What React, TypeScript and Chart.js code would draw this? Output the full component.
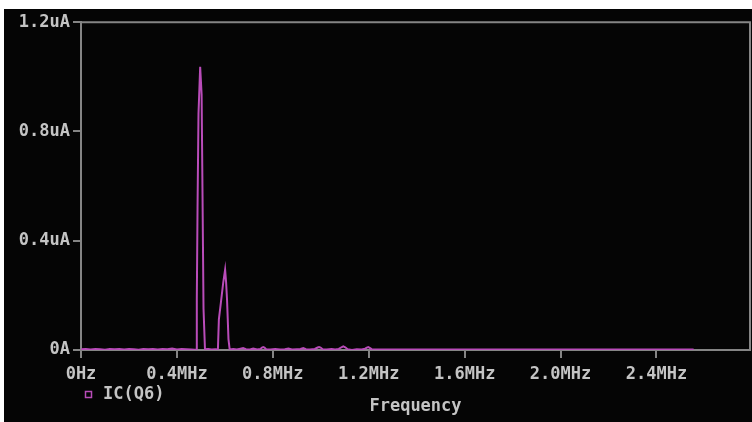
import { useEffect, useRef } from "react";
import { Chart, registerables } from "chart.js";

Chart.register(...registerables);

// Spectrum of the collector current IC(Q6): frequency in MHz, magnitude in uA
const freqMHz = [
  0.000, 0.020, 0.040, 0.060, 0.080, 0.100, 0.120, 0.140, 0.160, 0.180,
  0.200, 0.220, 0.240, 0.260, 0.280, 0.300, 0.320, 0.340, 0.360, 0.380,
  0.400, 0.420, 0.440, 0.460, 0.474, 0.481, 0.483, 0.486, 0.490, 0.497,
  0.503, 0.506, 0.511, 0.517, 0.530, 0.545, 0.560, 0.571, 0.575, 0.584,
  0.593, 0.601, 0.605, 0.609, 0.615, 0.620, 0.635, 0.650, 0.665, 0.676,
  0.688, 0.705, 0.718, 0.735, 0.748, 0.755, 0.760, 0.765, 0.772, 0.790,
  0.810, 0.830, 0.850, 0.865, 0.880, 0.900, 0.915, 0.927, 0.938, 0.955,
  0.975, 0.987, 0.993, 0.999, 1.008, 1.025, 1.045, 1.060, 1.075, 1.086,
  1.094, 1.102, 1.112, 1.130, 1.150, 1.170, 1.185, 1.192, 1.198, 1.204,
  1.212, 1.230, 1.300, 1.450, 1.600, 1.800, 2.000, 2.200, 2.400, 2.555,
];

const icQ6uA = [
  0.003, 0.004, 0.002, 0.004, 0.003, 0.001, 0.004, 0.003, 0.004, 0.002,
  0.004, 0.003, 0.001, 0.004, 0.003, 0.004, 0.002, 0.004, 0.003, 0.005,
  0.002, 0.004, 0.003, 0.002, 0.001, 0.002, 0.185, 0.520, 0.865, 1.037,
  0.935, 0.645, 0.150, 0.003, 0.004, 0.002, 0.003, 0.002, 0.112, 0.178,
  0.246, 0.294, 0.250, 0.185, 0.040, 0.002, 0.004, 0.002, 0.005, 0.007,
  0.003, 0.002, 0.005, 0.002, 0.004, 0.009, 0.011, 0.009, 0.003, 0.002,
  0.004, 0.002, 0.003, 0.005, 0.002, 0.003, 0.004, 0.007, 0.003, 0.002,
  0.004, 0.009, 0.011, 0.009, 0.003, 0.002, 0.004, 0.002, 0.004, 0.010,
  0.013, 0.010, 0.003, 0.000, 0.003, 0.002, 0.005, 0.009, 0.011, 0.008,
  0.003, 0.002, 0.002, 0.002, 0.002, 0.002, 0.002, 0.002, 0.002, 0.002,
];

const xTickValues = [0, 0.4, 0.8, 1.2, 1.6, 2.0, 2.4];
const xTickLabels = ["0Hz", "0.4MHz", "0.8MHz", "1.2MHz", "1.6MHz", "2.0MHz", "2.4MHz"];
const yTickValues = [0, 0.4, 0.8, 1.2];
const yTickLabels = ["0A", "0.4uA", "0.8uA", "1.2uA"];
const seriesName = "IC(Q6)";
const xAxisTitle = "Frequency";
const xMaxMHz = 2.79;
const yMaxUA = 1.2;

const TRACE = "#b94cb9";
const AXIS = "#858585";
const TEXT = "#c4c4c4";
const BG = "#050505";
const FONT = { family: "'DejaVu Sans Mono', 'Liberation Mono', monospace", size: 17, weight: "bold" as const };

export default function App() {
  const ref = useRef<HTMLCanvasElement>(null);

  useEffect(() => {
    const canvas = ref.current;
    if (!canvas) return;

    // top and right edges of the plot box
    const plotFrame = {
      id: "plotFrame",
      beforeDatasetsDraw(chart: Chart) {
        const { ctx, chartArea: a } = chart;
        ctx.save();
        ctx.strokeStyle = AXIS;
        ctx.lineWidth = 2;
        ctx.beginPath();
        ctx.moveTo(a.left, a.top);
        ctx.lineTo(a.right, a.top);
        ctx.lineTo(a.right, a.bottom);
        ctx.stroke();
        ctx.restore();
      },
    };

    // trace key under the frequency axis
    const traceKey = {
      id: "traceKey",
      afterDraw(chart: Chart) {
        const { ctx, chartArea: a } = chart;
        ctx.save();
        ctx.strokeStyle = TRACE;
        ctx.lineWidth = 1.5;
        ctx.strokeRect(a.left + 4.5, a.bottom + 41.5, 6, 6);
        ctx.fillStyle = TEXT;
        ctx.font = `${FONT.weight} ${FONT.size}px ${FONT.family}`;
        ctx.textAlign = "left";
        ctx.textBaseline = "middle";
        ctx.fillText(seriesName, a.left + 22, a.bottom + 45);
        ctx.restore();
      },
    };

    const chart = new Chart(canvas, {
      type: "line",
      data: {
        datasets: [
          {
            label: seriesName,
            data: freqMHz.map((f, i) => ({ x: f, y: icQ6uA[i] })),
            borderColor: TRACE,
            borderWidth: 2,
            pointRadius: 0,
            tension: 0,
            fill: false,
          },
        ],
      },
      options: {
        responsive: false,
        animation: false,
        events: [],
        layout: { padding: { top: 11, right: 2, bottom: 0, left: 0 } },
        plugins: { legend: { display: false }, tooltip: { enabled: false } },
        scales: {
          x: {
            type: "linear",
            min: 0,
            max: xMaxMHz,
            afterBuildTicks: (s: any) => {
              s.ticks = xTickValues.map((v) => ({ value: v }));
            },
            afterFit: (s: any) => {
              s.height = 72;
            },
            ticks: {
              callback: (_v: any, i: number) => xTickLabels[i],
              color: TEXT,
              font: FONT,
              maxRotation: 0,
              autoSkip: false,
              padding: 6,
            },
            grid: {
              display: true,
              drawOnChartArea: false,
              drawTicks: true,
              tickLength: 8,
              color: AXIS,
              lineWidth: 2,
            },
            border: { display: true, color: AXIS, width: 2 },
            title: {
              display: true,
              text: xAxisTitle,
              color: TEXT,
              font: FONT,
              padding: { top: 0, bottom: 5 },
            },
          },
          y: {
            type: "linear",
            min: 0,
            max: yMaxUA,
            afterBuildTicks: (s: any) => {
              s.ticks = yTickValues.map((v) => ({ value: v }));
            },
            afterFit: (s: any) => {
              s.width = 77;
            },
            ticks: {
              callback: (_v: any, i: number) => yTickLabels[i],
              color: TEXT,
              font: FONT,
              padding: 3,
            },
            grid: {
              display: true,
              drawOnChartArea: false,
              drawTicks: true,
              tickLength: 8,
              color: AXIS,
              lineWidth: 2,
            },
            border: { display: true, color: AXIS, width: 2 },
          },
        },
      },
      plugins: [plotFrame, traceKey],
    });

    return () => chart.destroy();
  }, []);

  return (
    <div style={{ position: "fixed", inset: 0, background: "#ffffff" }}>
      <div
        style={{
          position: "absolute",
          left: 4,
          top: 9,
          width: 748,
          height: 413,
          background: BG,
        }}
      >
        <canvas ref={ref} width={748} height={413} style={{ display: "block", width: 748, height: 413 }} />
      </div>
    </div>
  );
}
